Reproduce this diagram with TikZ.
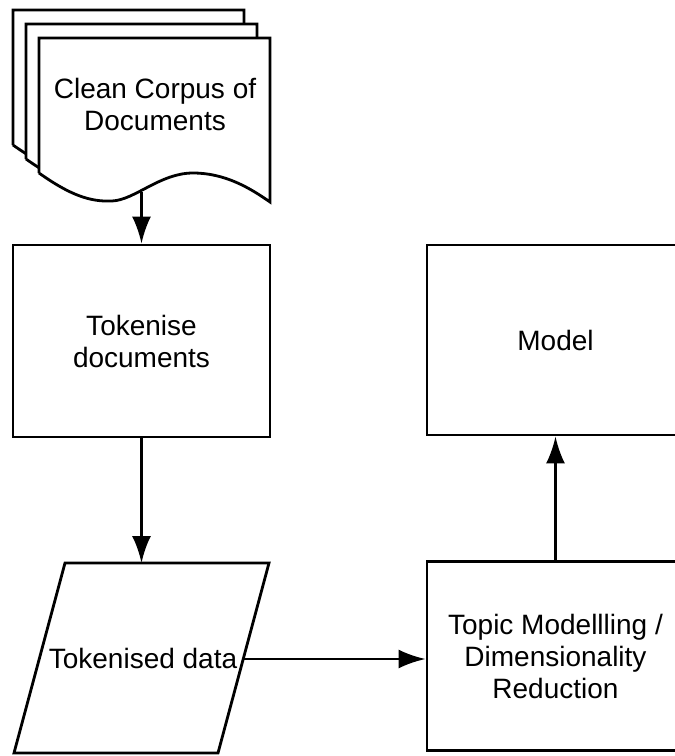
\documentclass[tikz,border=0pt]{standalone}
\usepackage{fontspec}
\setmainfont{Liberation Sans}
\usetikzlibrary{arrows.meta}

\begin{document}
\begin{tikzpicture}[x=1pt,y=-1pt,line width=2.8pt,
  font=\fontsize{28}{32}\selectfont,
  box/.style={draw,rectangle,minimum width=257pt,align=center},
  flow/.style={-{Latex[length=27pt,width=19pt]}}]
  \useasboundingbox (0,0) rectangle (675,756);

  % stack of pages
  \foreach \s in {2,1,0}
    \draw[fill=white,shift={(-13*\s,-14*\s)}] (39,173) -- (39,38) -- (270,38) -- (270,202)
      .. controls (250,188) and (225,173) .. (193,173)
      .. controls (160,173) and (135,200) .. (112,201)
      .. controls (90,202) and (70,195) .. (39,173);

  % data parallelogram
  \coordinate (d1) at (65,563);
  \coordinate (d2) at (269,563);
  \coordinate (d3) at (218,753);
  \coordinate (d4) at (14,753);
  \draw (d1) -- (d2) -- (d3) -- (d4) -- cycle;
  \coordinate (datatop) at (141.5,563);
  \coordinate (dataright) at (243.5,659);

  \node[align=center] (docs) at (155,104) {Clean Corpus of\\Documents};
  \coordinate (docsend) at (141.5,192);
  \node[box,minimum height=192pt] (tok) at (141.5,341) {Tokenise\\documents};
  \node[inner sep=0pt] (data) at (143,658) {Tokenised data};
  \node[box,minimum height=189pt] (topic) at (555.5,656) {Topic Modellling /\\Dimensionality\\Reduction};
  \node[box,minimum height=190pt] (model) at (555.5,340) {Model};

  \draw[flow] (docsend) -- (tok);
  \draw[flow] (tok) -- (datatop);
  \draw[flow] (dataright) -- (dataright -| topic.west);
  \draw[flow] (topic) -- (model);
\end{tikzpicture}
\end{document}
